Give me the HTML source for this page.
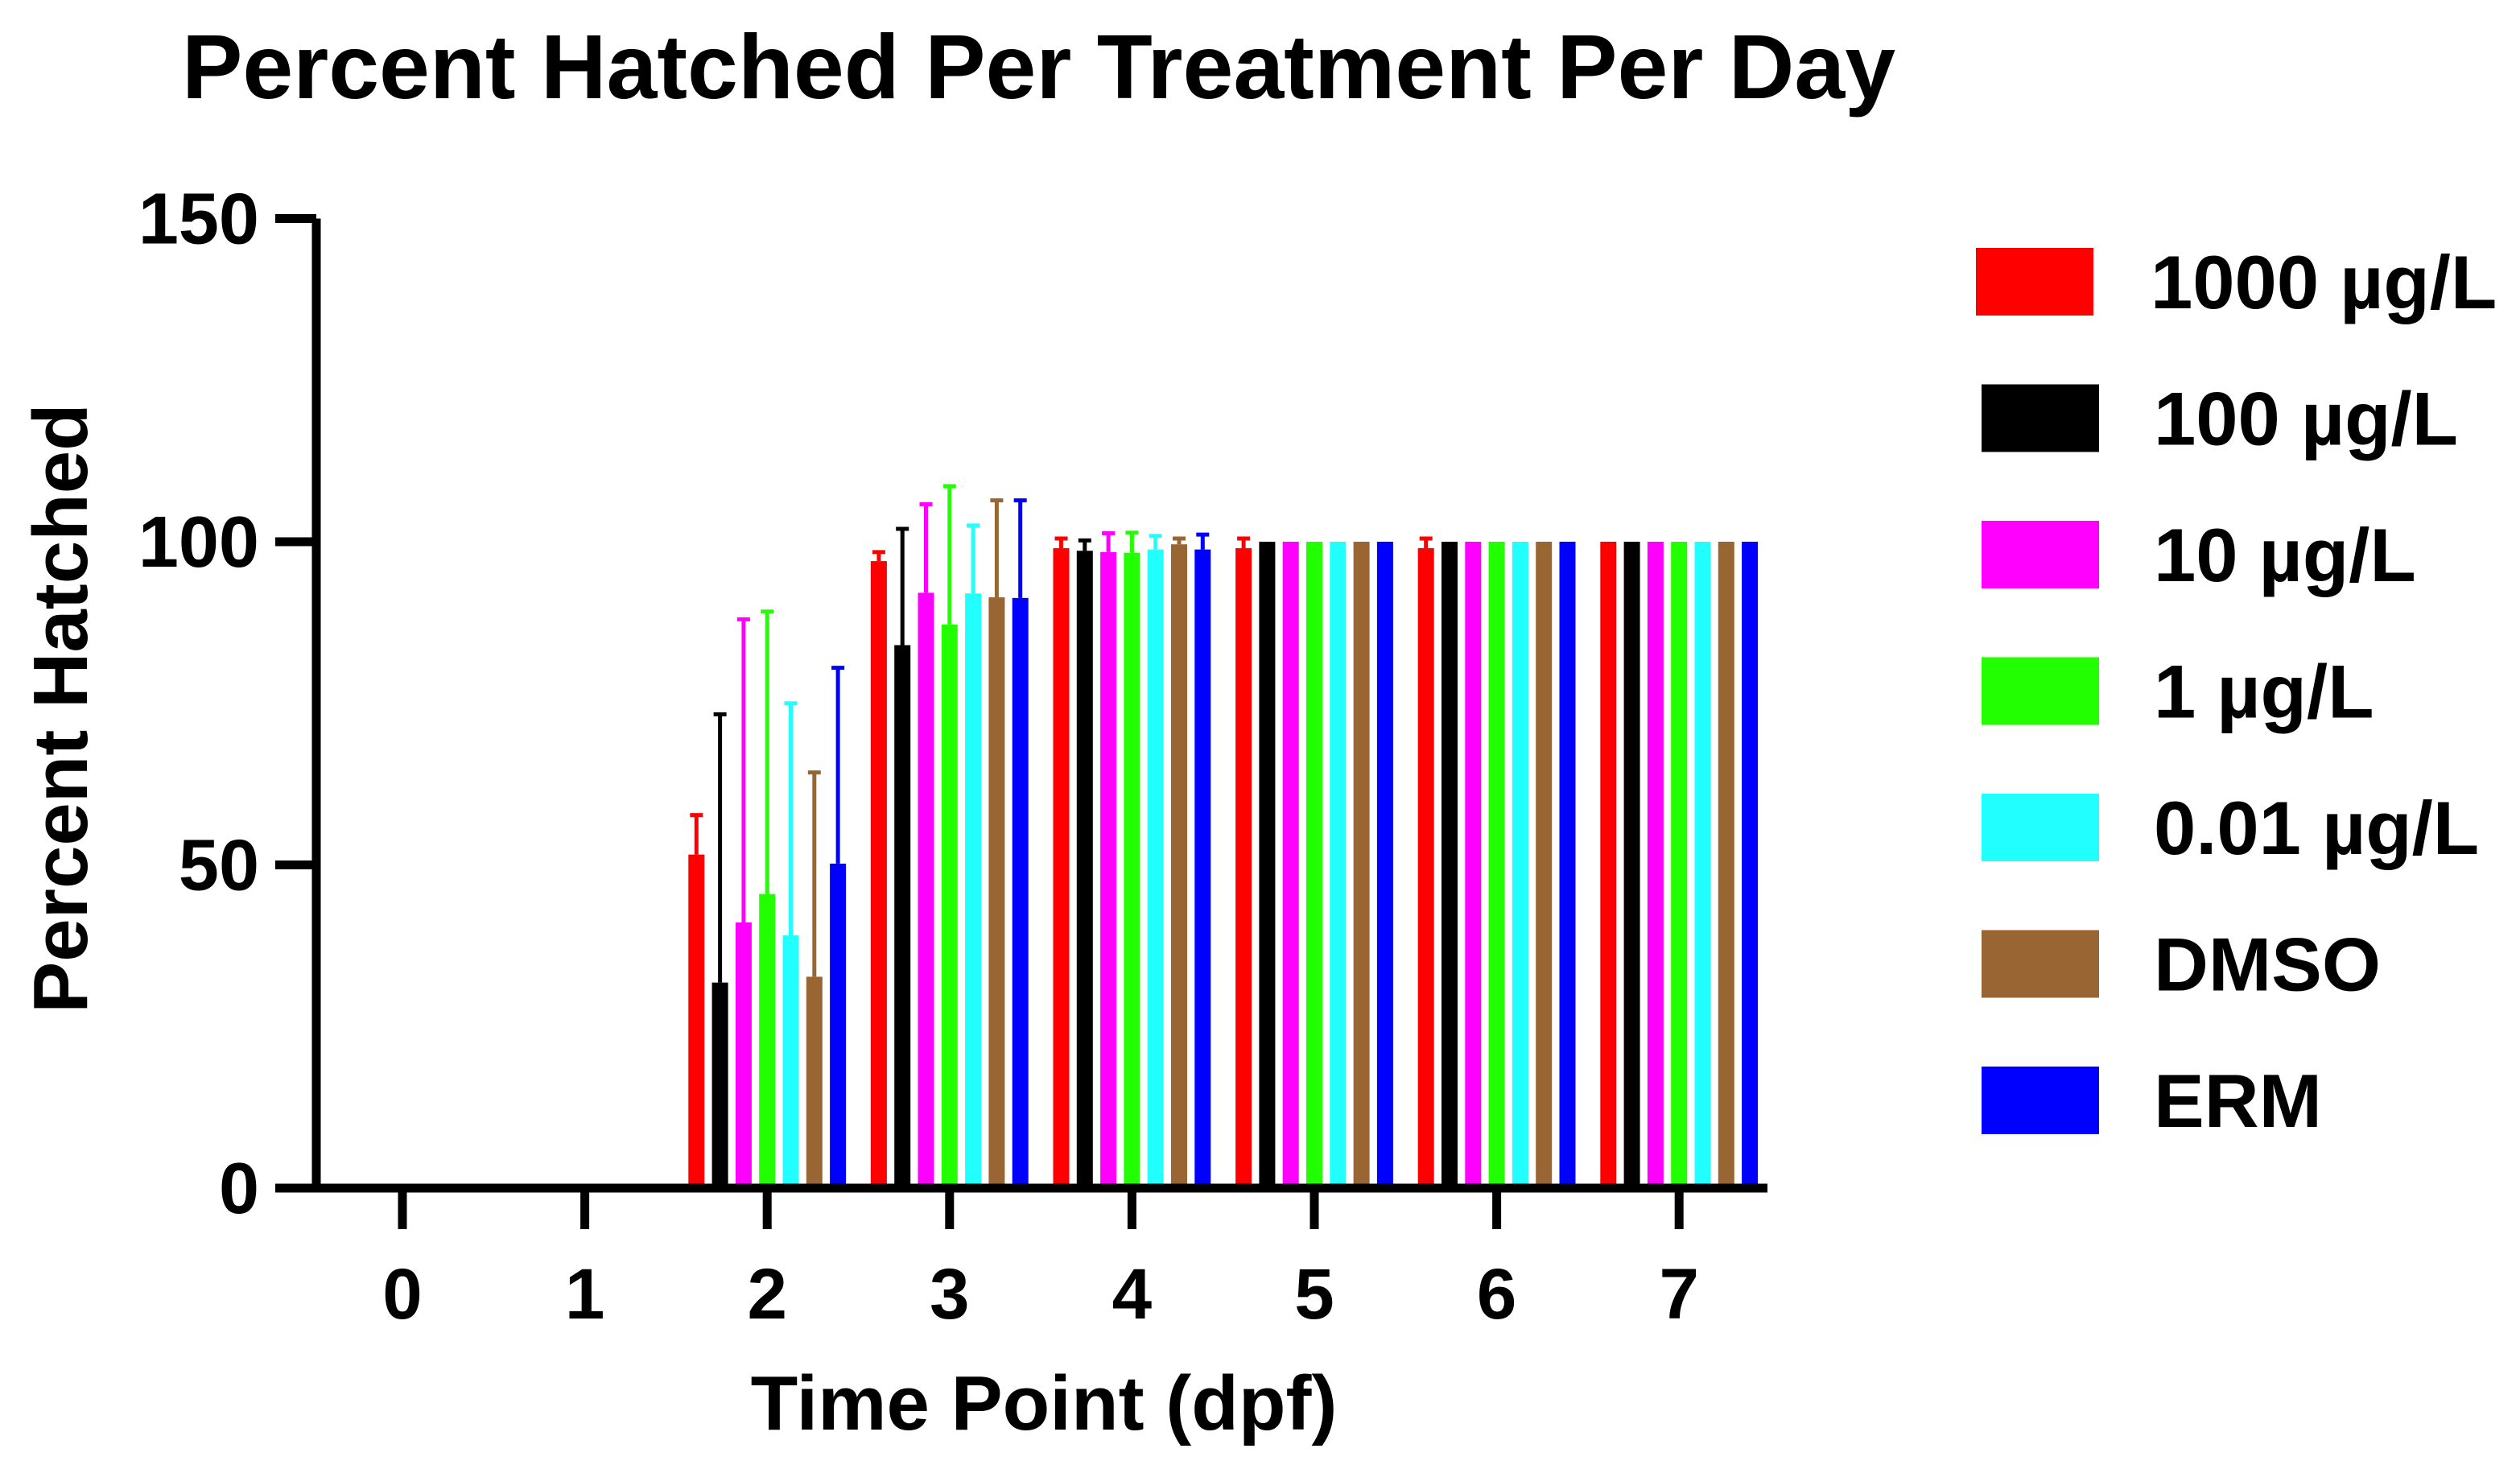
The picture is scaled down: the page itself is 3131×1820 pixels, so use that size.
<!DOCTYPE html>
<html><head><meta charset="utf-8">
<style>
html,body{margin:0;padding:0;background:#fff;}
svg{display:block;font-family:"Liberation Sans",Arial,sans-serif;font-weight:bold;}
</style></head>
<body>
<svg id="chart" width="3131" height="1820" viewBox="0 0 3131 1820" xmlns="http://www.w3.org/2000/svg">
<text x="226" y="122" font-size="113">Percent Hatched Per Treatment Per Day</text>
<text transform="translate(108,880) rotate(-90)" text-anchor="middle" font-size="96">Percent Hatched</text>
<text x="1297" y="1776" text-anchor="middle" font-size="96">Time Point (dpf)</text>
<g id="bars"></g>
<g id="axes"></g>
<g id="legend"></g>
</svg>
<script>
const days = [0,1,2,3,4,5,6,7];
const seriesNames = ["1000 µg/L","100 µg/L","10 µg/L","1 µg/L","0.01 µg/L","DMSO","ERM"];
const seriesColors = ["#ff0000","#000000","#ff00ff","#22ff00","#22ffff","#996633","#0000ff"];
const s1000 = [0,0,51.6,97,99,99,99,100];
const s100  = [0,0,31.8,84,98.6,100,100,100];
const s10   = [0,0,41.1,92.1,98.4,100,100,100];
const s1    = [0,0,45.5,87.2,98.3,100,100,100];
const s001  = [0,0,39.1,92,98.8,100,100,100];
const sDMSO = [0,0,32.7,91.4,99.6,100,100,100];
const sERM  = [0,0,50.2,91.3,98.8,100,100,100];
const e1000 = [0,0,6.1,1.4,1.5,1.5,1.5,0];
const e100  = [0,0,41.5,18,1.6,0,0,0];
const e10   = [0,0,46.9,13.7,2.9,0,0,0];
const e1    = [0,0,43.7,21.4,3.1,0,0,0];
const e001  = [0,0,35.9,10.5,2.1,0,0,0];
const eDMSO = [0,0,31.6,15,0.9,0,0,0];
const eERM  = [0,0,30.3,15.1,2.3,0,0,0];
const yTicks = [0,50,100,150];

const values = [s1000,s100,s10,s1,s001,sDMSO,sERM];
const errors = [e1000,e100,e10,e1,e001,eDMSO,eERM];
const NS = "http://www.w3.org/2000/svg";
const y0 = 1476, yPerUnit = 8.03;
function yScale(v){ return y0 - v*yPerUnit; }
function xScale(d){ return 500 + d*226.6; }
const pitch = 29.3, bw = 20;
function mk(tag, attrs, parent){
  const el = document.createElementNS(NS, tag);
  for (const k in attrs) el.setAttribute(k, attrs[k]);
  parent.appendChild(el);
  return el;
}
const bars = document.getElementById('bars');
values.forEach((ser, si) => {
  ser.forEach((v, di) => {
    if (v <= 0) return;
    const cx = xScale(days[di]) + (si-3)*pitch;
    const r = mk('rect', {x: cx-bw/2, y: yScale(v), width: bw, height: y0 - yScale(v), fill: seriesColors[si]}, bars);
    
    
    const e = errors[si][di];
    if (e > 0) {
      const l = mk('line', {x1: cx, x2: cx, y1: yScale(v), y2: yScale(v+e), stroke: seriesColors[si], 'stroke-width': 5}, bars);
      
      
      const c = mk('line', {x1: cx-8, x2: cx+8, y1: yScale(v+e), y2: yScale(v+e), stroke: seriesColors[si], 'stroke-width': 5}, bars);
      
      
    }
  });
});
const axes = document.getElementById('axes');
const ya = mk('line', {x1: 393, x2: 393, y1: yScale(150), y2: y0+5, stroke: '#000', 'stroke-width': 11}, axes);


const xa = mk('line', {x1: 342, x2: 2196, y1: y0, y2: y0, stroke: '#000', 'stroke-width': 11}, axes);


yTicks.forEach(t => {
  const tk = mk('line', {x1: 342, x2: 393, y1: yScale(t), y2: yScale(t), stroke: '#000', 'stroke-width': 11}, axes);
  
  
  const tx = mk('text', {x: 322, y: yScale(t)+31, 'text-anchor': 'end', 'font-size': 90}, axes);
  tx.textContent = t;
  
  
});
days.forEach(d => {
  const tk = mk('line', {x1: xScale(d), x2: xScale(d), y1: y0, y2: 1527, stroke: '#000', 'stroke-width': 11}, axes);
  
  
  const tx = mk('text', {x: xScale(d), y: 1638, 'text-anchor': 'middle', 'font-size': 89}, axes);
  tx.textContent = d;
  
  
});
const legend = document.getElementById('legend');
seriesNames.forEach((n, i) => {
  const cy = 350 + i*169.5;
  const sw = mk('rect', {x: i===0 ? 2455 : 2462, y: cy-42, width: 146, height: 84, fill: seriesColors[i]}, legend);
  
  
  const tx = mk('text', {x: i===0 ? 2672 : 2676, y: cy+33, 'font-size': 94}, legend);
  tx.textContent = n;
  
  
});
</script>
</body></html>
